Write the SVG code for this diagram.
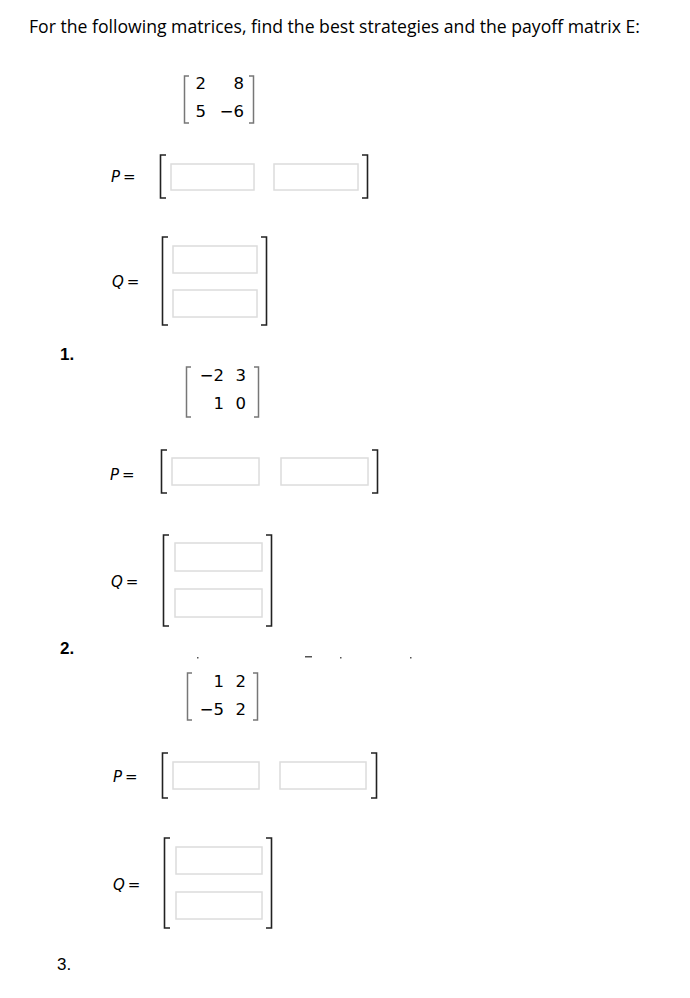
<svg xmlns="http://www.w3.org/2000/svg" width="690" height="998" viewBox="0 0 690 998">
<style>
.title{font-family:"Open Sans","Liberation Sans",Arial,sans-serif;font-size:19px;fill:#000}
.num{font-family:"Liberation Sans",Arial,sans-serif;font-size:17px;fill:#000}
.lab{font-family:"DejaVu Sans",Verdana,sans-serif;font-size:15px;fill:#000}
.m{font-family:"DejaVu Sans",Verdana,sans-serif;font-size:16.5px;fill:#000;text-anchor:end}
.br{fill:none;stroke:#222;stroke-width:1.6}
.sbr{fill:none;stroke:#777;stroke-width:1.5}
.box{fill:#fff;stroke:#dcdcdc;stroke-width:1.5}
.dot{fill:#555}
</style>
<rect width="690" height="998" fill="#fff"/>
<text class="title" x="29" y="33" textLength="611" lengthAdjust="spacingAndGlyphs">For the following matrices, find the best strategies and the payoff matrix E:</text>

<g id="matrix1">
<path class="sbr" d="M189,76 H184.5 V123 H189 M249,76 H253.5 V123 H249"/>
<text class="m" x="206" y="89">2</text><text class="m" x="244" y="89">8</text>
<text class="m" x="206" y="117">5</text><text class="m" x="244" y="117">−6</text>
</g>
<g id="P1">
<text class="lab" x="111" y="182"><tspan font-style="italic">P</tspan><tspan dx="3">=</tspan></text>
<path class="br" d="M166,155 H160.5 V198 H166 M362,155 H367.5 V198 H362"/>
<rect class="box" x="171" y="164" width="83" height="26"/>
<rect class="box" x="274" y="164" width="84" height="26"/>
</g>
<g id="Q1">
<text class="lab" x="112" y="287"><tspan font-style="italic">Q</tspan><tspan dx="3">=</tspan></text>
<path class="br" d="M168,237 H162.5 V325 H168 M261,237 H266.5 V325 H261"/>
<rect class="box" x="173" y="246" width="84" height="27"/>
<rect class="box" x="173" y="290" width="84" height="27"/>
</g>
<text id="n1" class="num" x="60" y="360" font-weight="bold">1.</text>

<g id="matrix2">
<path class="sbr" d="M191,367 H186.5 V417 H191 M254,367 H258.5 V417 H254"/>
<text class="m" x="224" y="381">−2</text><text class="m" x="246" y="381">3</text>
<text class="m" x="224" y="409">1</text><text class="m" x="246" y="409">0</text>
</g>
<g id="P2">
<text class="lab" x="110" y="480"><tspan font-style="italic">P</tspan><tspan dx="3">=</tspan></text>
<path class="br" d="M167,450 H161.5 V493 H167 M372,450 H377.5 V493 H372"/>
<rect class="box" x="172" y="458" width="87" height="27"/>
<rect class="box" x="281" y="458" width="87" height="27"/>
</g>
<g id="Q2">
<text class="lab" x="111" y="587"><tspan font-style="italic">Q</tspan><tspan dx="3">=</tspan></text>
<path class="br" d="M169,535 H163.5 V626 H169 M266,535 H271.5 V626 H266"/>
<rect class="box" x="175" y="543" width="87" height="28"/>
<rect class="box" x="175" y="589" width="87" height="28"/>
</g>
<text id="n2" class="num" x="60" y="654" font-weight="bold">2.</text>
<g id="marks">
<rect class="dot" x="197" y="657" width="1.5" height="1.5"/>
<rect class="dot" x="305" y="656" width="7" height="1.5"/>
<rect class="dot" x="340" y="657" width="1.5" height="1.5"/>
<rect class="dot" x="410" y="657" width="1.5" height="1.5"/>
</g>

<g id="matrix3">
<path class="sbr" d="M192,673 H187.5 V720 H192 M253,673 H257.5 V720 H253"/>
<text class="m" x="224" y="687">1</text><text class="m" x="246" y="687">2</text>
<text class="m" x="224" y="715">−5</text><text class="m" x="246" y="715">2</text>
</g>
<g id="P3">
<text class="lab" x="113" y="782"><tspan font-style="italic">P</tspan><tspan dx="3">=</tspan></text>
<path class="br" d="M168,753 H162.5 V798 H168 M371,753 H376.5 V798 H371"/>
<rect class="box" x="173" y="762" width="86" height="27"/>
<rect class="box" x="280" y="762" width="86" height="27"/>
</g>
<g id="Q3">
<text class="lab" x="113" y="890"><tspan font-style="italic">Q</tspan><tspan dx="3">=</tspan></text>
<path class="br" d="M170,838 H164.5 V928 H170 M266,838 H271.5 V928 H266"/>
<rect class="box" x="176" y="847" width="86" height="27"/>
<rect class="box" x="176" y="892" width="86" height="27"/>
</g>
<text id="n3" class="num" x="57" y="970">3.</text>
</svg>
